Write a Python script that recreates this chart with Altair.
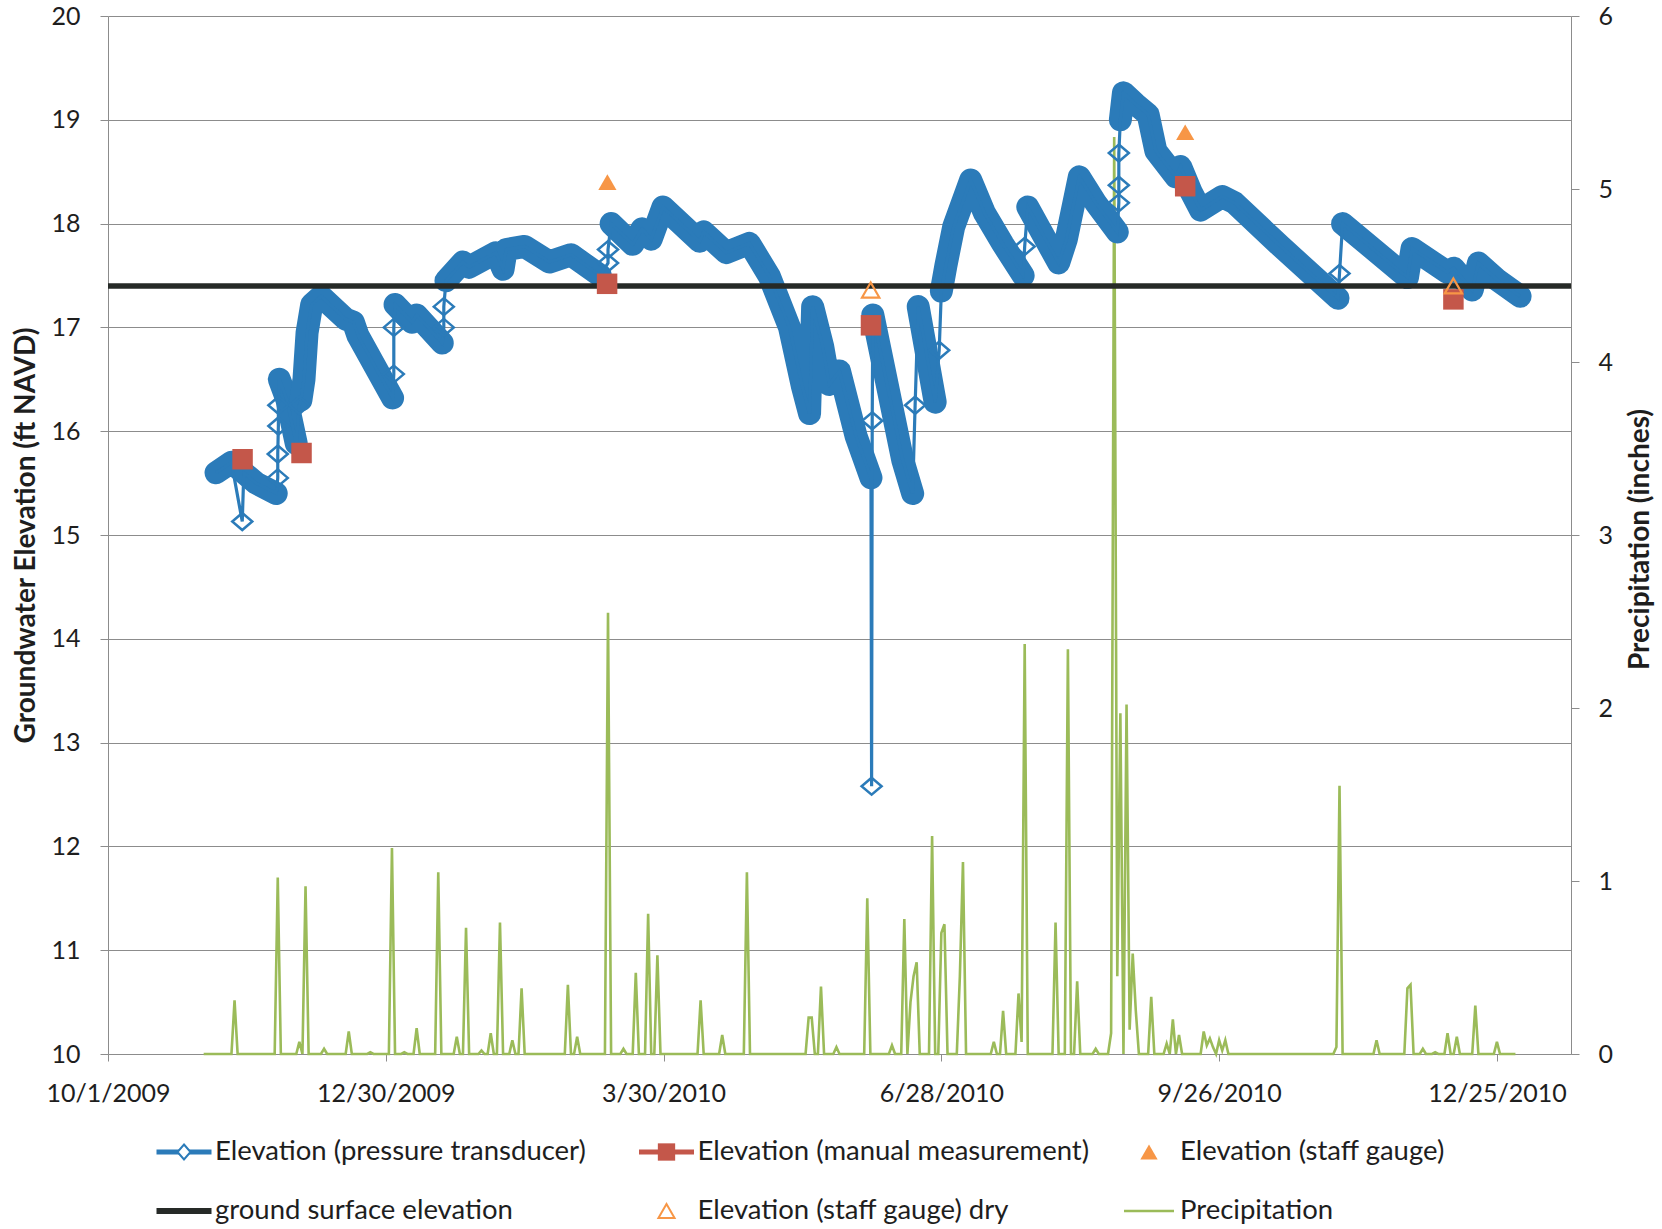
import altair as alt
import pandas as pd

ORIGIN = pd.Timestamp("2009-10-01")

# Pressure-transducer record (days after ORIGIN, ft NAVD); each run is a
# continuous stretch of logger readings.
transducer_runs = [
    [(35, 15.60), (40, 15.70), (44, 15.60), (48, 15.50), (54.5, 15.40)],
    [(55.5, 16.50), (58, 16.30), (61, 15.88)],
    [(62.5, 16.30), (63.5, 16.50), (64.5, 16.95), (66, 17.22), (69, 17.30), (77, 17.08),
     (79.5, 17.05), (81, 16.92), (92.2, 16.32)],
    [(93, 17.22), (98.5, 17.05), (100, 17.12), (108.3, 16.85)],
    [(109.5, 17.45), (115, 17.63), (117, 17.58), (125.7, 17.72), (128, 17.56), (129, 17.75),
     (135, 17.78), (143, 17.63), (150, 17.70), (159.5, 17.50)],
    [(163, 18.00), (170, 17.80), (173, 17.95), (176, 17.85), (179.8, 18.16), (191.7, 17.83),
     (193, 17.92), (200.3, 17.72), (207.8, 17.81), (214.3, 17.49), (220.8, 17.00),
     (225, 16.43), (227.3, 16.17), (228.3, 17.20), (231.6, 16.81), (233.7, 16.45),
     (237, 16.58), (242.4, 15.95), (247.2, 15.55)],
    [(247.8, 17.12), (253, 16.37), (257.5, 15.72), (260.7, 15.40)],
    [(262.5, 17.20), (268, 16.28)],
    [(270, 17.35), (271.5, 17.60), (274, 17.97), (279.5, 18.42), (284, 18.10), (290, 17.80),
     (296.5, 17.50)],
    [(298, 18.16), (308, 17.62), (310.5, 17.85), (314.7, 18.45), (320, 18.20), (327, 17.92)],
    [(328, 19.00), (329, 19.26), (333, 19.15), (337, 19.05), (339.5, 18.70), (346, 18.45),
     (347.5, 18.55), (351, 18.30), (354, 18.13), (361, 18.26), (365, 18.20), (380, 17.78),
     (398.5, 17.28)],
    [(400, 18.00), (421, 17.48), (422.5, 17.76), (434, 17.53), (436, 17.57), (442, 17.36),
     (444, 17.62), (450, 17.46), (457.5, 17.30)],
]

# Single transducer readings between the runs (jumps and dropouts)
jump_day = [43.5, 55, 55, 55.2, 55.2, 62, 92.6, 92.6, 108.8, 108.8, 162, 162,
            247.4, 247.6, 261.5, 269.3, 297, 327.5, 327.5, 327.5, 399]
jump_ft = [15.13, 15.55, 15.78, 16.05, 16.25, 16.25, 16.55, 17.00, 17.00, 17.20, 17.62, 17.75,
           12.58, 16.10, 16.25, 16.78, 17.78, 18.20, 18.37, 18.68, 17.52]

manual_day = [43.6, 62.7, 161.7, 247.2, 349.0, 435.9]
manual_ft = [15.73, 15.79, 17.42, 17.02, 18.36, 17.27]

staff_day = [161.8, 349.0]
staff_ft = [18.40, 18.88]

staff_dry_day = [247.1, 435.9]
staff_dry_ft = [17.36, 17.40]

ground_ft = 17.40

# Daily precipitation (inches); days not listed had none
rain_first_day, rain_last_day = 31, 456
rain_day = [41, 55, 62, 64, 70, 78, 85, 92, 96, 100, 107, 113, 116, 121, 124, 127, 131, 134,
            149, 152, 162, 167, 171, 175, 178, 192, 199, 207, 227, 228, 231, 236, 246, 254,
            258, 260, 261, 262, 267, 270, 271, 276, 277, 287, 290, 295, 296, 297, 307, 311,
            314, 320, 325, 326, 327, 328, 330, 331, 332, 333, 338, 343, 345, 347, 355, 356,
            357, 358, 360, 361, 362, 398, 399, 411, 421, 422, 426, 430, 434, 437, 443, 450]
rain_in = [0.31, 1.02, 0.07, 0.97, 0.03, 0.13, 0.01, 1.19, 0.01, 0.15, 1.05, 0.10, 0.73, 0.02,
           0.12, 0.76, 0.08, 0.38, 0.40, 0.10, 2.55, 0.03, 0.47, 0.81, 0.57, 0.31, 0.11, 1.05,
           0.21, 0.21, 0.39, 0.04, 0.90, 0.05, 0.78, 0.30, 0.45, 0.53, 1.26, 0.70, 0.75, 0.45,
           1.11, 0.07, 0.25, 0.35, 0.07, 2.37, 0.76, 2.34, 0.42, 0.03, 0.12, 5.30, 0.45, 1.97,
           2.02, 0.14, 0.58, 0.25, 0.33, 0.06, 0.20, 0.11, 0.13, 0.05, 0.09, 0.04, 0.08, 0.02,
           0.08, 0.04, 1.55, 0.08, 0.38, 0.40, 0.03, 0.01, 0.12, 0.10, 0.28, 0.07]

x_tick_dates = ["2009-10-01", "2009-12-30", "2010-03-30", "2010-06-28", "2010-09-26", "2010-12-25"]
x_start, x_end = "2009-10-01", "2011-01-18"

legend_labels = ["Elevation (pressure transducer)", "Elevation (manual measurement)",
                 "Elevation (staff gauge)", "ground surface elevation",
                 "Elevation (staff gauge) dry", "Precipitation"]


def to_date(day):
    return (ORIGIN + pd.to_timedelta(day, unit="D")).strftime("%Y-%m-%dT%H:%M:%SZ")


def to_dt(s):
    t = pd.Timestamp(s)
    return alt.DateTime(year=t.year, month=t.month, date=t.day, utc=True)


# ---- tables -------------------------------------------------------------
band_rows, all_pts = [], []
for run, pts in enumerate(transducer_runs):
    for k, (d, v) in enumerate(pts):
        band_rows.append({"date": to_date(d), "ft": v, "run": run, "seq": k})
        all_pts.append((d, v))
band_df = pd.DataFrame(band_rows)

jump_df = pd.DataFrame({"date": [to_date(d) for d in jump_day], "ft": jump_ft})
all_pts += list(zip(jump_day, jump_ft))
all_pts = sorted(all_pts, key=lambda p: p[0])  # stable: keeps listed order on ties
trace_df = pd.DataFrame({"date": [to_date(d) for d, _ in all_pts],
                         "ft": [v for _, v in all_pts],
                         "seq": list(range(len(all_pts)))})

manual_df = pd.DataFrame({"date": [to_date(d) for d in manual_day], "ft": manual_ft})
staff_df = pd.DataFrame({"date": [to_date(d) for d in staff_day], "ft": staff_ft})
dry_df = pd.DataFrame({"date": [to_date(d) for d in staff_dry_day], "ft": staff_dry_ft})
ground_df = pd.DataFrame({"ft": [ground_ft]})

rain_lookup = dict(zip(rain_day, rain_in))
days = list(range(rain_first_day, rain_last_day + 1))
rain_df = pd.DataFrame({"date": [to_date(d) for d in days],
                        "inches": [rain_lookup.get(d, 0.0) for d in days]})

legend_df = pd.DataFrame({"label": legend_labels,
                          "col": [i % 3 for i in range(6)],
                          "row": [i // 3 for i in range(6)]})

# ---- styling ------------------------------------------------------------
FONT = "Lato"
BLUE = "#2B7BB9"
RED = "#C4574A"
ORANGE = "#F79646"
DARK = "#262a27"
GREEN = "#9BBB59"
GRID = "#8c8c8c"
INK = "#1e1e1e"
W, H = 1463, 1038

x_enc = alt.X(
    "date:T",
    title=None,
    scale=alt.Scale(type="utc", domain=[to_dt(x_start), to_dt(x_end)]),
    axis=alt.Axis(values=[to_dt(s) for s in x_tick_dates], format="%-m/%-d/%Y",
                  grid=False, domainColor=GRID, tickColor=GRID, tickSize=7,
                  labelPadding=20, labelFlush=False, labelOverlap=False,
                  labelFont=FONT, labelFontSize=25, labelColor=INK),
)
elev_scale = alt.Scale(domain=[10, 20], nice=False, zero=False)


def elev_y(axis=None):
    return alt.Y("ft:Q", scale=elev_scale, axis=axis)


left_axis = alt.Axis(
    orient="left", values=list(range(10, 21)), grid=True, gridColor=GRID, gridWidth=1.2,
    domainColor=GRID, tickColor=GRID, tickSize=8, labelPadding=20, labelFlush=False,
    labelFont=FONT, labelFontSize=25, labelColor=INK,
    title="Groundwater Elevation (ft NAVD)", titleFont=FONT, titleFontSize=28,
    titleFontWeight="bold", titleColor=INK, titleAngle=270, titleBaseline="middle",
    titleAlign="center", titleX=-82, titleY=H / 2,
)
right_axis = alt.Axis(
    orient="right", values=list(range(0, 7)), grid=False,
    domainColor=GRID, tickColor=GRID, tickSize=8, labelPadding=19, labelFlush=False,
    labelFont=FONT, labelFontSize=25, labelColor=INK,
    title="Precipitation (inches)", titleFont=FONT, titleFontSize=28,
    titleFontWeight="bold", titleColor=INK, titleAngle=270, titleBaseline="middle",
    titleAlign="center", titleX=69, titleY=H / 2 + 4,
)

precip = alt.Chart(rain_df).mark_line(color=GREEN, strokeWidth=2.6).encode(
    x=x_enc,
    y=alt.Y("inches:Q", scale=alt.Scale(domain=[0, 6], nice=False), axis=right_axis),
)

band = alt.Chart(band_df).mark_line(
    color=BLUE, strokeWidth=23, strokeJoin="round", strokeCap="round"
).encode(x=x_enc, y=elev_y(left_axis), detail="run:N", order="seq:Q")

trace = alt.Chart(trace_df).mark_line(color=BLUE, strokeWidth=3.2).encode(
    x=x_enc, y=elev_y(), order="seq:Q"
)

DIAMOND = "M0,-0.85L1,0L0,0.85L-1,0Z"
jumps = alt.Chart(jump_df).mark_point(
    shape=DIAMOND, size=400, filled=False, stroke=BLUE, strokeWidth=2.5, opacity=1
).encode(x=x_enc, y=elev_y())

ground = alt.Chart(ground_df).mark_rule(color=DARK, strokeWidth=5.5).encode(y=elev_y())

manual = alt.Chart(manual_df).mark_point(
    shape="square", size=420, filled=True, color=RED, opacity=1
).encode(x=x_enc, y=elev_y())

staff = alt.Chart(staff_df).mark_point(
    shape="triangle-up", size=330, filled=True, color=ORANGE, opacity=1
).encode(x=x_enc, y=elev_y())

dry = alt.Chart(dry_df).mark_point(
    shape="triangle-up", size=300, filled=False, color=ORANGE, strokeWidth=2.2, opacity=1
).encode(x=x_enc, y=elev_y())

main = alt.layer(precip, band, trace, jumps, ground, manual, staff, dry).resolve_scale(
    y="independent"
)

# ---- legend: two rows of three entries under the plot ---------------------
lx = alt.X("col:Q", scale=alt.Scale(domain=[0, 2], range=[76, 1041]), axis=None)
ly = alt.Y("row:Q", scale=alt.Scale(domain=[0, 1], range=[1136, 1195]), axis=None)
leg = alt.Chart(legend_df)
SEGMENT = "M-1,0L1,0"


def leg_symbol(label, **mark):
    return leg.transform_filter(alt.datum.label == label).mark_point(
        opacity=1, **mark).encode(x=lx, y=ly)


legend = alt.layer(
    leg_symbol(legend_labels[0], shape=SEGMENT, size=3025, filled=False, stroke=BLUE, strokeWidth=5),
    leg_symbol(legend_labels[0], shape="M0,-1.15L1,0L0,1.15L-1,0Z", size=169, fill="white",
               stroke=BLUE, strokeWidth=2),
    leg_symbol(legend_labels[1], shape=SEGMENT, size=3025, filled=False, stroke=RED, strokeWidth=5),
    leg_symbol(legend_labels[1], shape="square", size=300, filled=True, fill=RED, strokeWidth=0),
    leg_symbol(legend_labels[2], shape="triangle-up", size=300, filled=True, fill=ORANGE, strokeWidth=0),
    leg_symbol(legend_labels[3], shape=SEGMENT, size=3025, filled=False, stroke=DARK, strokeWidth=6),
    leg_symbol(legend_labels[4], shape="triangle-up", size=260, filled=False, stroke=ORANGE,
               strokeWidth=2),
    leg_symbol(legend_labels[5], shape=SEGMENT, size=2500, filled=False, stroke=GREEN,
               strokeWidth=2.5),
    leg.mark_text(align="left", baseline="middle", dx=31, font=FONT, fontSize=27.5, color=INK).encode(
        x=lx, y=ly, text="label:N"),
)

chart = (
    alt.layer(main, legend)
    .resolve_scale(x="independent", y="independent")
    .properties(
        width=W, height=H,
        autosize=alt.AutoSizeParams(type="none"),
        padding={"left": 108, "top": 16, "right": 1662 - 108 - W, "bottom": 1229 - 16 - H},
        background="white",
    )
    .configure_view(stroke=None)
)

chart.save("out.html", embed_options={"renderer": "svg", "actions": False})
